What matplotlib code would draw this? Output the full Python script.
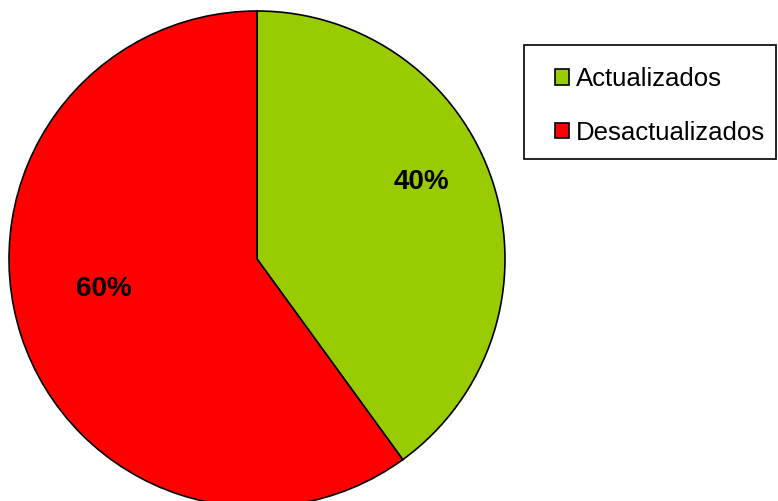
import matplotlib.pyplot as plt
from matplotlib.patches import Rectangle
import numpy as np

labels = ['Actualizados', 'Desactualizados']
values = [40, 60]
colors = ['#99CC00', '#FF0000']

plt.rcParams['font.family'] = ['Liberation Sans', 'DejaVu Sans']

W, H = 778, 501
fig = plt.figure(figsize=(W / 100, H / 100), dpi=100)

# pie centre (257, 259) px, radius 248 px
cx, cy, r = 257, 259, 248
ax = fig.add_axes([(cx - r) / W, (H - cy - r) / H, 2 * r / W, 2 * r / H])

wedges, _ = ax.pie(values, colors=colors, startangle=90, counterclock=False,
                   wedgeprops=dict(edgecolor='black', linewidth=1.2))
ax.set_xlim(-1, 1)
ax.set_ylim(-1, 1)
ax.set_aspect('equal')
ax.axis('off')

# percentage labels, nudged like the original
for w, v, rr, off in zip(wedges, values, [0.73, 0.63], [7, -7]):
    ang = np.deg2rad((w.theta1 + w.theta2) / 2 + off)
    ax.text(rr * np.cos(ang), rr * np.sin(ang), f'{v}%', ha='center', va='center',
            fontsize=20, fontweight='bold')

# legend frame drawn separately so the padding matches
fig.patches.append(Rectangle((524 / W, 1 - 159 / H), 252 / W, 114 / H,
                             transform=fig.transFigure, facecolor='white',
                             edgecolor='black', linewidth=1.2, zorder=0))
leg = fig.legend(wedges, labels, loc='upper left',
                 bbox_to_anchor=(555 / W, 1 - 67 / H), fontsize=18.5,
                 frameon=False, handlelength=0.55, handleheight=0.55,
                 handletextpad=0.25, labelspacing=1.15, borderpad=0,
                 borderaxespad=0)

fig.savefig('out.png', dpi=100)
